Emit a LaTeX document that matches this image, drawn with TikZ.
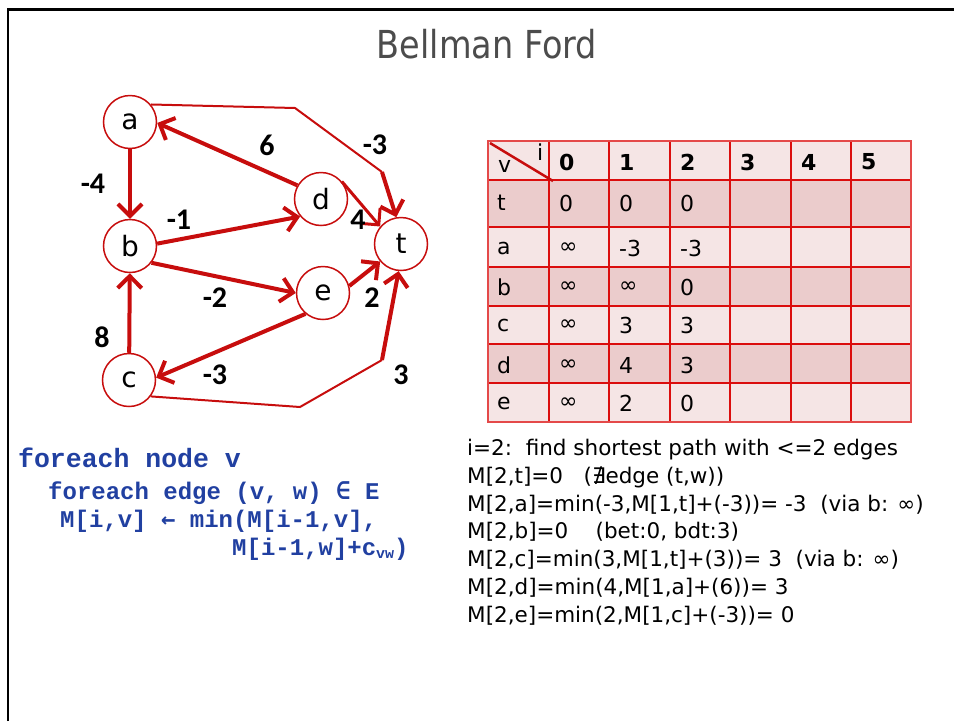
\documentclass[tikz,border=0pt]{standalone}
\usepackage{fontspec}
\setmainfont{DejaVu Sans}
\newfontfamily\codefont{Liberation Mono}
\newfontfamily\symfont{DejaVu Sans Mono}
\newfontfamily\weightfont{Carlito}
\usepackage{tikz}
\usepackage{color}
\definecolor{edge-red}{rgb}{0.78,0.05,0.05}
\definecolor{grid-red}{rgb}{0.86,0.05,0.05}
\definecolor{row-light}{rgb}{0.96,0.90,0.90}
\definecolor{row-dark}{rgb}{0.92,0.80,0.80}
\definecolor{code-blue}{rgb}{0.13,0.25,0.63}
\definecolor{title-gray}{rgb}{0.30,0.30,0.30}
\usetikzlibrary{arrows.meta,positioning}

\begin{document}
\begin{tikzpicture}[x=1pt,y=-1pt,
    heavy/.style={draw=edge-red,line width=4pt,-{Straight Barb[length=12pt,width=24pt]}},
    light/.style={draw=edge-red,line width=2pt},
    grid/.style={draw=grid-red,line width=1.3pt}]
    \tikzstyle{vertex}=[draw=edge-red,circle,line width=1.5pt,fill=white,minimum size=53pt,inner sep=0pt,font=\fontsize{28}{28}\selectfont]
    \tikzstyle{weight}=[font=\weightfont\bfseries\fontsize{30}{30}\selectfont]
    \tikzstyle{head}=[anchor=west,inner sep=0pt,font=\bfseries\fontsize{22}{22}\selectfont]
    \tikzstyle{cell}=[anchor=west,inner sep=0pt,font=\fontsize{22}{22}\selectfont]
    \tikzstyle{code}=[anchor=base west,inner sep=0pt,text=code-blue,font=\codefont\bfseries\fontsize{24}{24}\selectfont]
    \tikzstyle{note}=[anchor=base west,inner sep=0pt,font=\fontsize{21.5}{21.5}\selectfont]
    \useasboundingbox (0,0) rectangle (954,721);

    % frame and title
    \draw[line width=2.5pt] (8,721) -- (8,9.5) -- (954,9.5);
    \node[anchor=base,inner sep=0pt,text=title-gray,font=\fontsize{33.5}{33.5}\selectfont] (title) at (487,58) {\scalebox{1}[1.15]{Bellman Ford}};

    % graph
    \node[vertex] (a) at (130,122) {a};
    \node[vertex] (b) at (130,246) {b};
    \node[vertex] (c) at (129,380) {c};
    \node[vertex] (d) at (321,199) {d};
    \node[vertex] (e) at (323,293) {e};
    \node[vertex] (t) at (401,244) {t};
    \coordinate (at1) at (295,108);
    \coordinate (at2) at (382,172);
    \coordinate (ct1) at (300,407);
    \coordinate (ct2) at (382,360);

    \draw[heavy] (a) -- (b);
    \draw[heavy] (d.150) -- (a.-2);
    \draw[heavy] (b.5) -- (d.220);
    \draw[heavy] (b.-38) -- (e.180);
    \draw[heavy] (e.230) -- (c.5);
    \draw[heavy] (c) -- (b);
    \draw[heavy,line width=3pt] (d.40) -- (t.140);
    \draw[heavy] (e.15) -- (t.220);
    \draw[light] (a.40) -- (at1) -- (at2);
    \draw[heavy] (at2) -- (t.100);
    \draw[light] (c.-37) -- (ct1) -- (ct2);
    \draw[heavy] (ct2) -- (t.265);

    \node[weight] (w-ab) at (93,184) {-4};
    \node[weight] (w-da) at (267,145) {6};
    \node[weight] (w-at) at (375,145) {-3};
    \node[weight] (w-bd) at (179,220) {-1};
    \node[weight] (w-dt) at (358,220) {4};
    \node[weight] (w-be) at (215,298) {-2};
    \node[weight] (w-et) at (372,298) {2};
    \node[weight] (w-cb) at (102,337) {8};
    \node[weight] (w-ec) at (215,375) {-3};
    \node[weight] (w-ct) at (401,375) {3};

    % table
    \foreach \top/\bot/\shade in {141/180/row-light,180/227/row-dark,227/267/row-light,267/306/row-dark,306/344/row-light,344/383/row-dark,383/422/row-light}
        \fill[\shade] (488,\top) rectangle (911,\bot);
    \foreach \x in {549,609,670,730,791,851}
        \draw[grid] (\x,141) -- (\x,422);
    \foreach \y in {180,227,267,306,344,383}
        \draw[grid] (488,\y) -- (911,\y);
    \draw[grid,draw=grid-red!75,line width=2pt] (488,141) rectangle (911,422);
    \draw[draw=edge-red,line width=2.5pt] (490,143) -- (553,181);
    \node[cell] (hv) at (498,166) {v};
    \node[cell] (hi) at (537,152) {i};
    \foreach \i/\x in {0/559,1/619,2/680,3/740,4/801,5/861}
        \node[head] (h\i) at (\x,162) {\i};
    \foreach \v/\y/\m/\n/\o in {t/203/0/0/0,a/248/∞/-3/-3,b/287/∞/∞/0,c/325/∞/3/3,d/365/∞/4/3,e/403/∞/2/0}{
        \node[cell] (r\v) at (497,\y) {\v};
        \node[cell] (\v0) at (559,\y) {\m};
        \node[cell] (\v1) at (619,\y) {\n};
        \node[cell] (\v2) at (680,\y) {\o};
    }

    % pseudo code
    \node[code,font=\codefont\bfseries\fontsize{26.5}{26.5}\selectfont] (code1) at (18,467) {foreach node v};
    \node[code] (code2) at (48,499) {foreach edge (v, w) {\symfont\bfseries ∈} E};
    \node[code] (code3) at (60,527) {M[i,v] {\symfont\bfseries ←} min(M[i-1,v],};
    \node[code] (code4) at (232,555) {M[i-1,w]+c{\fontsize{15}{15}\selectfont\raisebox{-3pt}{vw}})};

    % second iteration
    \node[note] (line1) at (467,455) {i=2:\ \ find shortest path with <=2 edges};
    \node[note] (line2) at (467,483) {M[2,t]=0\ \ \ (∄edge (t,w))};
    \node[note] (line3) at (467,511) {M[2,a]=min(-3,M[1,t]+(-3))= -3\ \ (via b: ∞)};
    \node[note] (line4) at (467,538) {M[2,b]=0\ \ \ \ (bet:0, bdt:3)};
    \node[note] (line5) at (467,566) {M[2,c]=min(3,M[1,t]+(3))= 3\ \ (via b: ∞)};
    \node[note] (line6) at (467,594) {M[2,d]=min(4,M[1,a]+(6))= 3};
    \node[note] (line7) at (467,622) {M[2,e]=min(2,M[1,c]+(-3))= 0};
\end{tikzpicture}
\end{document}
